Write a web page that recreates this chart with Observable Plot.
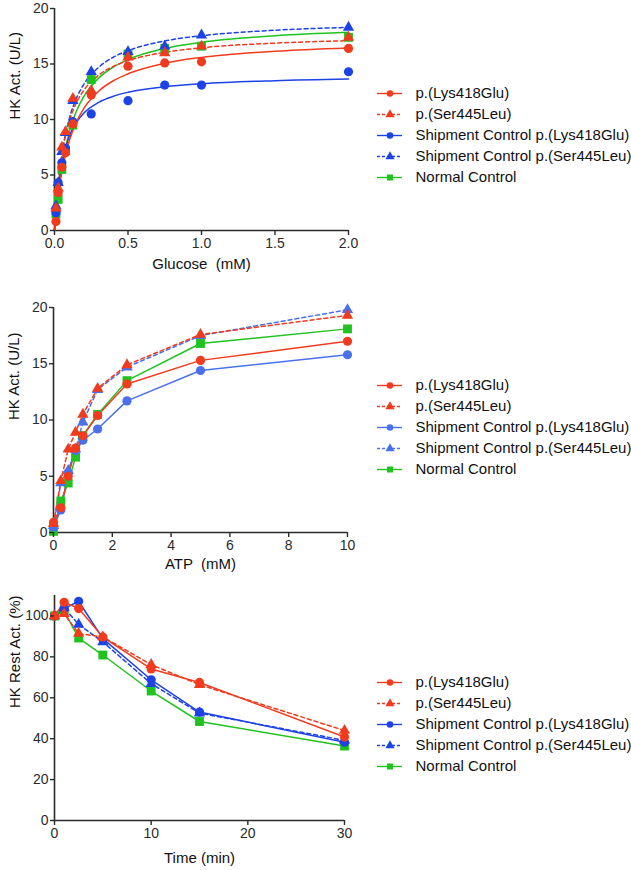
<!DOCTYPE html>
<html>
<head>
<meta charset="utf-8">
<script src="https://cdn.jsdelivr.net/npm/d3@7"></script>
<script src="https://cdn.jsdelivr.net/npm/@observablehq/plot@0.6"></script>
<style>
  html, body { margin: 0; padding: 0; background: #fff; }
  #root { position: relative; width: 631px; height: 870px; overflow: hidden; font-family: "Liberation Sans", Arial, sans-serif; }
  .panel { position: absolute; left: 0; }
  .legend { position: absolute; left: 360px; }
</style>
</head>
<body>
<div id="root"></div>
<script>
// ---------------- DATA ----------------
const seriesNames = ["p.(Lys418Glu)", "p.(Ser445Leu)", "Shipment Control p.(Lys418Glu)", "Shipment Control p.(Ser445Leu)", "Normal Control"];

// Panel 1: glucose (measured points)
const glucoseConc = [0.01, 0.025, 0.05, 0.075, 0.125, 0.25, 0.5, 0.75, 1, 2];
const glcLys      = [0.8, 3.4, 5.7, 7.0, 9.6, 12.2, 14.8, 15.1, 15.2, 16.4];
const glcSer      = [2.0, 3.8, 7.5, 8.9, 11.9, 12.6, 15.6, 16.0, 16.6, 17.4];
const glcShipLys  = [1.6, 4.3, 6.1, 7.4, 9.8, 10.5, 11.7, 13.1, 13.1, 14.3];
const glcShipSer  = [2.2, 4.3, 7.1, 8.8, 11.7, 14.3, 16.1, 16.6, 17.6, 18.3];
const glcNormal   = [1.5, 2.8, 5.5, 7.2, 9.5, 13.6, 15.9, 16.4, 16.6, 17.4];

// Panel 1: fitted curves
const glcCurveConc    = [0, 0.025, 0.05, 0.1, 0.15, 0.2, 0.3, 0.4, 0.5, 0.75, 1, 1.5, 2];
const glcCurveLys     = [0, 3.09, 5.24, 8.06, 9.81, 11.01, 12.55, 13.49, 14.12, 15.07, 15.59, 16.15, 16.45];
const glcCurveSer     = [0, 4.17, 6.76, 9.80, 11.53, 12.64, 13.99, 14.78, 15.30, 16.05, 16.46, 16.88, 17.10];
const glcCurveShipLys = [0, 3.86, 6.06, 8.47, 9.77, 10.59, 11.54, 12.09, 12.45, 12.95, 13.22, 13.50, 13.65];
const glcCurveShipSer = [0, 4.15, 6.82, 10.05, 11.94, 13.18, 14.70, 15.61, 16.20, 17.08, 17.55, 18.04, 18.30];
const glcCurveNormal  = [0, 3.44, 5.82, 8.89, 10.79, 12.08, 13.73, 14.73, 15.40, 16.40, 16.95, 17.54, 17.85];

// Panel 2: ATP
const atpConc     = [0, 0.25, 0.5, 0.75, 1, 1.5, 2.5, 5, 10];
const atpLys      = [0.9, 2.2, 5.0, 7.5, 8.6, 10.4, 13.2, 15.3, 17.0];
const atpSer      = [0.8, 4.6, 7.4, 8.9, 10.5, 12.8, 14.9, 17.6, 19.3];
const atpShipLys  = [0.5, 2.0, 5.3, 7.3, 8.2, 9.2, 11.7, 14.4, 15.8];
const atpShipSer  = [0.6, 4.4, 5.5, 7.4, 9.8, 12.7, 14.7, 17.5, 19.8];
const atpNormal   = [0.1, 2.8, 4.4, 6.7, 8.6, 10.5, 13.5, 16.8, 18.1];

// Panel 3: thermostability
const timeMin      = [0, 1, 2.5, 5, 10, 15, 30];
const timeLys      = [100, 106.7, 103.6, 89.7, 74.1, 67.5, 40.8];
const timeSer      = [100, 101.1, 91.4, 89.7, 76.2, 66.4, 44.0];
const timeShipLys  = [100, 103.6, 107.2, 88.9, 68.8, 53.0, 38.3];
const timeShipSer  = [100, 103.9, 95.8, 87.3, 66.9, 52.5, 39.2];
const timeNormal   = [100, 102.4, 89.2, 80.9, 63.3, 48.4, 36.4];

// Tick labels
const glucoseTicks = [0, 0.5, 1.0, 1.5, 2.0];
const actTicks = [0, 5, 10, 15, 20];
const atpTicks = [0, 2, 4, 6, 8, 10];
const timeTicks = [0, 10, 20, 30];
const restTicks = [0, 20, 40, 60, 80, 100];

// ---------------- STYLE ----------------
const RED = "#f03b1f", BLUE = "#1d42e6", BLUE_LIGHT = "#4b70ec", GREEN = "#20c220";
const colorsDark = [RED, RED, BLUE, BLUE, GREEN];
const colorsLight = [RED, RED, BLUE_LIGHT, BLUE_LIGHT, GREEN];
const dashed = [false, true, false, true, false];
const symbols = ["circle", "triangle", "circle", "triangle", "square"];
const symR = {circle: 4.6, triangle: 4.2, square: 5.0};
const FONT = "'Liberation Sans', Arial, Helvetica, sans-serif";
const AXIS = "#2b2b2b";

const root = document.getElementById("root");

function zip(xs, ys) { return xs.map((x, i) => ({x, y: ys[i]})); }

function panel({top, xDomain, yDomain, xTicks, yTicks, xFmt, pointsX, pointsY, lineX, lineY, colors, xLabel, yLabel, xLabelDy, mL, mR, mT, mB, plotH, curve}) {
  const order = [4, 3, 2, 1, 0];
  const marks = [];
  marks.push(Plot.ruleY([yDomain[0]], {stroke: AXIS, strokeWidth: 1.6}));
  marks.push(Plot.ruleX([xDomain[0]], {stroke: AXIS, strokeWidth: 1.6}));
  for (const i of order) {
    const lineData = zip(lineX, lineY[i]);
    marks.push(Plot.line(lineData, {x: "x", y: "y", stroke: colors[i], strokeWidth: 1.5,
      strokeDasharray: dashed[i] ? "4,3" : undefined, curve: curve}));
  }
  for (const i of order) {
    const pts = zip(pointsX, pointsY[i]);
    marks.push(Plot.dot(pts, {x: "x", y: "y", symbol: symbols[i], r: symR[symbols[i]], fill: colors[i]}));
  }
  marks.push(Plot.axisX({ticks: xTicks, tickFormat: xFmt, tickSize: 5, tickPadding: 3, color: AXIS, strokeWidth: 1.4, fontSize: 14, label: null}));
  marks.push(Plot.axisY({ticks: yTicks, tickSize: 4, tickPadding: 2, color: AXIS, strokeWidth: 1.4, fontSize: 14, label: null}));
  marks.push(Plot.text([xLabel], {frameAnchor: "bottom", dy: xLabelDy, fontSize: 15, fill: "#111"}));
  marks.push(Plot.text([yLabel], {frameAnchor: "left", dx: -39, rotate: -90, fontSize: 15, fill: "#111"}));
  const p = Plot.plot({
    width: 360,
    height: mT + plotH + mB,
    marginLeft: mL, marginRight: mR, marginTop: mT, marginBottom: mB,
    x: {domain: xDomain},
    y: {domain: yDomain},
    style: {fontFamily: FONT, background: "transparent", overflow: "visible"},
    marks
  });
  p.classList.add("panel");
  p.style.top = top + "px";
  root.appendChild(p);
}

function legend(top, colors) {
  const marks = [];
  seriesNames.forEach((n, i) => {
    marks.push(Plot.ruleY([n], {y: d => d, x1: 17, x2: 42, stroke: colors[i], strokeWidth: 1.4,
      strokeDasharray: dashed[i] ? "3,2" : undefined}));
    marks.push(Plot.dot([n], {x: 29.5, y: d => d, symbol: symbols[i], r: symbols[i] === "circle" ? 3.3 : 3.4, fill: colors[i]}));
    marks.push(Plot.text([n], {x: 55, y: d => d, text: d => d, textAnchor: "start", fontSize: 15, fill: "#111"}));
  });
  const p = Plot.plot({
    width: 271, height: 128,
    marginLeft: 0, marginRight: 0, marginTop: 0, marginBottom: 0,
    x: {domain: [0, 271], range: [0, 271], axis: null},
    y: {type: "point", domain: seriesNames, range: [10, 117], axis: null},
    style: {fontFamily: FONT, background: "transparent", overflow: "visible"},
    marks
  });
  p.classList.add("legend");
  p.style.top = top + "px";
  root.appendChild(p);
}

// Panel 1
panel({
  top: 0, xDomain: [0, 2], yDomain: [0, 20], xTicks: glucoseTicks, yTicks: actTicks, xFmt: d3.format(".1f"),
  pointsX: glucoseConc, pointsY: [glcLys, glcSer, glcShipLys, glcShipSer, glcNormal],
  lineX: glcCurveConc, lineY: [glcCurveLys, glcCurveSer, glcCurveShipLys, glcCurveShipSer, glcCurveNormal],
  colors: colorsDark, xLabel: "Glucose  (mM)", yLabel: "HK Act. (U/L)", xLabelDy: 38,
  mL: 54, mR: 12, mT: 8, mB: 55, plotH: 222, curve: "monotone-x"
});
legend(71, colorsDark);

// Panel 2
panel({
  top: 290, xDomain: [0, 10], yDomain: [0, 20], xTicks: atpTicks, yTicks: actTicks, xFmt: d3.format("d"),
  pointsX: atpConc, pointsY: [atpLys, atpSer, atpShipLys, atpShipSer, atpNormal],
  lineX: atpConc, lineY: [atpLys, atpSer, atpShipLys, atpShipSer, atpNormal],
  colors: colorsLight, xLabel: "ATP  (mM)", yLabel: "HK Act. (U/L)", xLabelDy: 36,
  mL: 53, mR: 13, mT: 17, mB: 50, plotH: 225, curve: "linear"
});
legend(363, colorsLight);

// Panel 3
panel({
  top: 580, xDomain: [0, 30], yDomain: [0, 110], xTicks: timeTicks, yTicks: restTicks, xFmt: d3.format("d"),
  pointsX: timeMin, pointsY: [timeLys, timeSer, timeShipLys, timeShipSer, timeNormal],
  lineX: timeMin, lineY: [timeLys, timeSer, timeShipLys, timeShipSer, timeNormal],
  colors: colorsDark, xLabel: "Time (min)", yLabel: "HK Rest Act. (%)", xLabelDy: 42,
  mL: 54, mR: 16, mT: 15, mB: 50, plotH: 225, curve: "linear"
});
legend(660, colorsDark);
</script>
</body>
</html>
